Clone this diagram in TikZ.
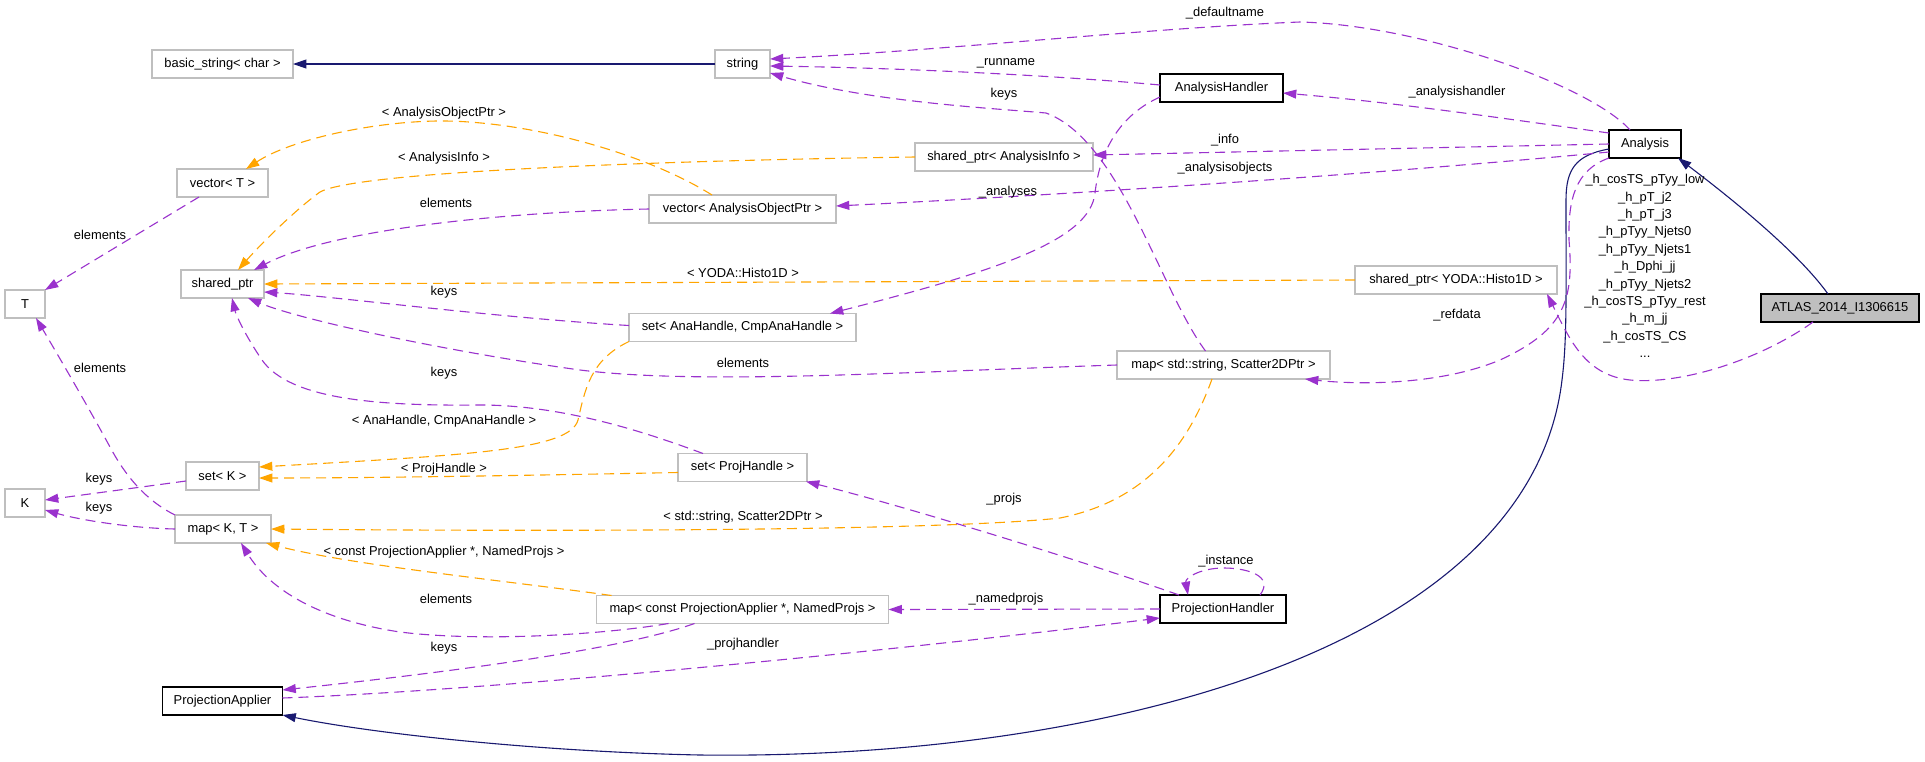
\documentclass[tikz,border=0pt]{standalone}
\usepackage{fontspec}
\setmainfont{Liberation Sans}
\usetikzlibrary{arrows.meta,calc}
\definecolor{dorchid}{HTML}{9A32CD}
\definecolor{dorange}{HTML}{FFA500}
\definecolor{mblue}{HTML}{191970}
\definecolor{greyseventyfive}{HTML}{BFBFBF}
\begin{document}
\begin{tikzpicture}[x=1pt,y=-1pt,
 every node/.style={font=\fontsize{12.9}{17.4}\selectfont, inner sep=0pt, outer sep=0pt},
 gbox/.style={draw=greyseventyfive, line width=1.33pt, minimum height=28pt, fill=white},
 bbox/.style={draw=black, line width=1.33pt, minimum height=28pt, fill=white},
 lbl/.style={fill=none},
 pedge/.style={draw=dorchid, line width=1.1pt, dash pattern=on 10pt off 6pt, -{Triangle[length=13.3pt,width=8.9pt]}},
 oedge/.style={draw=dorange, line width=1.1pt, dash pattern=on 10pt off 6pt, -{Triangle[length=13.3pt,width=8.9pt]}},
 iedge/.style={draw=mblue, line width=1.1pt, -{Triangle[length=13.3pt,width=8.9pt]}}
]
\useasboundingbox (0,0) rectangle (1925,761);
\fill[white] (0,0) rectangle (1925,761);

% nodes
\node[gbox, minimum width=141pt] (bs) at (222.5,64) {basic\_string< char >};
\node[gbox, minimum width=55pt] (str) at (742.5,64) {string};
\node[bbox, minimum width=123pt] (ah) at (1221.5,88) {AnalysisHandler};
\node[bbox, minimum width=72pt] (an) at (1645,144) {Analysis};
\node[bbox, fill=greyseventyfive, minimum width=158pt] (atlas) at (1840,308) {ATLAS\_2014\_I1306615};
\node[gbox, minimum width=178pt] (spai) at (1004,157) {shared\_ptr< AnalysisInfo >};
\node[gbox, minimum width=187pt] (vaop) at (742.5,209) {vector< AnalysisObjectPtr >};
\node[gbox, minimum width=91pt] (vt) at (222.5,183) {vector< T >};
\node[gbox, minimum width=83pt] (sp) at (222.5,284) {shared\_ptr};
\node[gbox, minimum width=40pt] (T) at (25,304) {T};
\node[gbox, minimum width=227pt] (sah) at (742.5,327.5) {set< AnaHandle, CmpAnaHandle >};
\node[gbox, minimum width=202pt] (yoda) at (1456,280) {shared\_ptr< YODA::Histo1D >};
\node[gbox, minimum width=213pt] (mss) at (1223.5,365) {map< std::string, Scatter2DPtr >};
\node[gbox, minimum width=73pt] (sk) at (222.5,476) {set< K >};
\node[gbox, minimum width=129pt] (sph) at (742.5,467.5) {set< ProjHandle >};
\node[gbox, minimum width=40pt] (K) at (25,503) {K};
\node[gbox, minimum width=96pt] (mkt) at (223,529) {map< K, T >};
\node[gbox, minimum width=292pt] (mpa) at (742.5,609.5) {map< const ProjectionApplier *, NamedProjs >};
\node[bbox, minimum width=126pt] (ph) at (1223,609) {ProjectionHandler};
\node[bbox, minimum width=120pt] (pa) at (222.5,701) {ProjectionApplier};

% inheritance
\draw[iedge] (str.west) -- (bs.east);
\draw[iedge] ($(atlas.north west)+(67,0)$) .. controls (1800,255) and (1740,205) .. ($(an.south east)+(-3,0)$);
\draw[iedge] ($(an.west)+(0,5)$) .. controls (1575,155) and (1566,170) .. (1566,200)
   .. controls (1566,300) and (1567,340) .. (1562,380)
   .. controls (1530,650) and (1100,760) .. (700,755)
   .. controls (550,752) and (380,735) .. (pa.south east);

% usage edges
\draw[pedge] ($(atlas.south west)+(52,0)$) .. controls (1760,360) and (1680,385) .. (1630,380) .. controls (1585,375) and (1570,340) .. ($(yoda.south east)+(-10,0)$);
\draw[pedge] (an.south west) .. controls (1575,170) and (1568,200) .. (1569,240) .. controls (1574,300) and (1565,330) .. (1500,360) .. controls (1440,385) and (1360,385) .. ($(mss.south east)+(-25,0)$);
\draw[pedge] ($(an.north)+(-15,0)$) .. controls (1590,85) and (1420,25) .. (1300,22) .. controls (1150,28) and (950,50) .. ($(str.north east)+(0,9)$);
\draw[pedge] ($(ah.west)+(0,-3)$) .. controls (1050,75) and (900,68) .. ($(str.north east)+(0,16)$);
\draw[pedge] ($(mss.north)+(-18,0)$) .. controls (1160,290) and (1120,140) .. (1046,113) .. controls (990,108) and (870,102) .. ($(str.north east)+(0,23)$);
\draw[pedge] ($(an.west)+(0,-11)$) .. controls (1500,118) and (1400,103) .. ($(ah.east)+(0,5)$);
\draw[pedge] (an.west) -- ($(spai.east)+(0,-2)$);
\draw[pedge] ($(an.west)+(0,8)$) .. controls (1400,172) and (1100,193) .. ($(vaop.east)+(0,-3)$);
\draw[pedge] ($(ah.west)+(0,9)$) .. controls (1120,115) and (1100,150) .. (1095,193) .. controls (1090,240) and (1000,270) .. ($(sah.north east)+(-26,0)$);
\draw[oedge] (spai.west) .. controls (700,160) and (360,170) .. (320,192) .. controls (295,210) and (260,245) .. ($(sp.north)+(15.5,0)$);
\draw[oedge] ($(vaop.north)+(-30.5,0)$) .. controls (640,150) and (520,120) .. (437,121) .. controls (370,122) and (290,140) .. ($(vt.north east)+(-22,0)$);
\draw[pedge] (vaop.west) .. controls (500,212) and (330,230) .. ($(sp.north east)+(-10,0)$);
\draw[pedge] ($(vt.south west)+(22,0)$) -- (T.north east);
\draw[oedge] (yoda.west) -- (sp.east);
\draw[pedge] ($(sah.west)+(0,-2)$) .. controls (500,318) and (330,296) .. ($(sp.east)+(0,8)$);
\draw[pedge] (mss.west) .. controls (900,372) and (700,385) .. (580,370) .. controls (450,352) and (300,320) .. ($(sp.south east)+(-16,0)$);
\draw[pedge] ($(sph.north)+(-39.5,0)$) .. controls (640,430) and (560,405) .. (480,405) .. controls (380,406) and (290,400) .. (262,360) .. controls (245,335) and (236,315) .. ($(sp.south)+(9.5,0)$);
\draw[oedge] (sah.south west) .. controls (590,360) and (585,390) .. (578,420) .. controls (570,450) and (470,455) .. ($(sk.east)+(0,-9)$);
\draw[oedge] ($(sph.west)+(0,5)$) .. controls (550,475) and (380,478) .. ($(sk.east)+(0,2)$);
\draw[pedge] ($(sk.west)+(0,5)$) -- ($(K.east)+(0,-3)$);
\draw[pedge] (mkt.west) .. controls (130,528) and (80,520) .. ($(K.east)+(0,7)$);
\draw[pedge] (mkt.north west) .. controls (145,500) and (125,475) .. (110,447) .. controls (90,410) and (55,350) .. ($(T.south)+(11,0)$);
\draw[oedge] ($(mss.south)+(-11.5,0)$) .. controls (1190,440) and (1150,500) .. (1060,518) .. controls (950,530) and (600,532) .. (mkt.east);
\draw[oedge] ($(mpa.north west)+(15,0)$) .. controls (500,580) and (350,565) .. ($(mkt.south east)+(-5,0)$);
\draw[pedge] ($(mpa.south west)+(72,0)$) .. controls (600,635) and (480,642) .. (400,632) .. controls (320,620) and (270,590) .. ($(mkt.south)+(18,0)$);
\draw[pedge] ($(mpa.south west)+(98,0)$) .. controls (620,650) and (450,672) .. ($(pa.north east)+(0,3)$);
\draw[pedge] ($(pa.east)+(0,-3)$) .. controls (500,690) and (900,650) .. ($(ph.west)+(0,9)$);
\draw[pedge] (ph.west) -- (mpa.east);
\draw[pedge] ($(ph.north east)+(-26,0)$) .. controls (1275,575) and (1245,568) .. (1224,568) .. controls (1200,568) and (1185,578) .. ($(ph.north west)+(28,0)$);
\draw[pedge] ($(ph.north west)+(19,0)$) .. controls (1080,560) and (900,505) .. ($(sph.south east)+(-1,0)$);

% labels
\node[lbl] (ldef) at (1225,13) {\_defaultname};
\node[lbl] (lrun) at (1006,63) {\_runname};
\node[lbl] (lkeysa) at (1004,94) {keys};
\node[lbl] (lah) at (1457,92) {\_analysishandler};
\node[lbl] (linfo) at (1225,140) {\_info};
\node[lbl] (laobj) at (1225,168) {\_analysisobjects};
\node[lbl] (lanalyses) at (1008,192) {\_analyses};
\node[lbl] (lai) at (444,158) {< AnalysisInfo >};
\node[lbl] (laop) at (444,113) {< AnalysisObjectPtr >};
\node[lbl] (lela) at (446,203) {elements};
\node[lbl] (lelb) at (100,235) {elements};
\node[lbl] (lyoda) at (743,273) {< YODA::Histo1D >};
\node[lbl] (lkeysb) at (444,292) {keys};
\node[lbl] (lelc) at (743,363) {elements};
\node[lbl] (lkeysc) at (444,373) {keys};
\node[lbl] (lana) at (444,421) {< AnaHandle, CmpAnaHandle >};
\node[lbl] (lph) at (444,469) {< ProjHandle >};
\node[lbl] (lkeysd) at (99,479) {keys};
\node[lbl] (lkeyse) at (99,508) {keys};
\node[lbl] (leld) at (100,368) {elements};
\node[lbl] (lsss) at (743,517) {< std::string, Scatter2DPtr >};
\node[lbl] (lcpa) at (444,552) {< const ProjectionApplier *, NamedProjs >};
\node[lbl] (lele) at (446,599) {elements};
\node[lbl] (lkeysf) at (444,648) {keys};
\node[lbl] (lprojh) at (743,644) {\_projhandler};
\node[lbl] (lnproj) at (1006,599) {\_namedprojs};
\node[lbl] (linst) at (1226,561) {\_instance};
\node[lbl] (lprojs) at (1004,499) {\_projs};
\node[lbl] (lref) at (1457,315) {\_refdata};
\node[lbl, align=center] (lh) at (1645,266) {\_h\_cosTS\_pTyy\_low\\\_h\_pT\_j2\\\_h\_pT\_j3\\\_h\_pTyy\_Njets0\\\_h\_pTyy\_Njets1\\\_h\_Dphi\_jj\\\_h\_pTyy\_Njets2\\\_h\_cosTS\_pTyy\_rest\\\_h\_m\_jj\\\_h\_cosTS\_CS\\...};
\end{tikzpicture}
\end{document}
